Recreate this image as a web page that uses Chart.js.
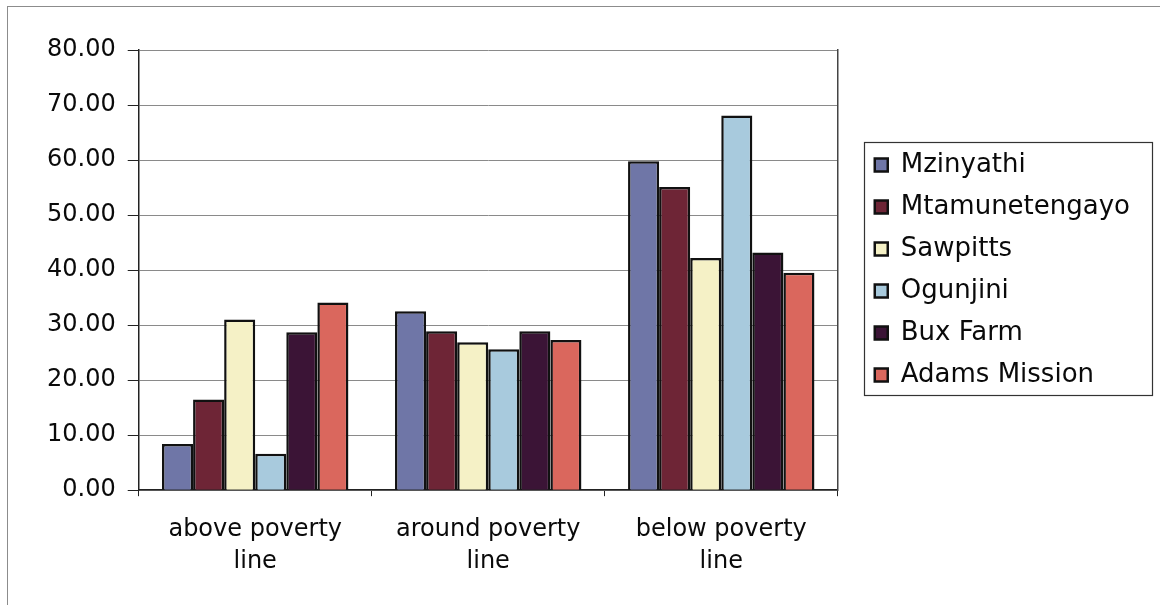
<!DOCTYPE html>
<html>
<head>
<meta charset="utf-8">
<script src="https://cdn.jsdelivr.net/npm/chart.js@4/dist/chart.umd.min.js"></script>
<style>
  html, body { margin: 0; padding: 0; background: #ffffff; }
  #wrap { position: relative; width: 1160px; height: 605px; overflow: hidden; }
  #frame { position: absolute; left: 7px; top: 6px; width: 1200px; height: 700px;
           border-top: 1px solid #8c8c8c; border-left: 1px solid #8c8c8c; pointer-events: none; }
  canvas { position: absolute; left: 0; top: 0; }
</style>
</head>
<body>
<div id="wrap">
  <div id="frame"></div>
  <canvas id="c" width="1160" height="605"></canvas>
</div>
<script>
// ---- data ----
const categories = [["above poverty", "line"], ["around poverty", "line"], ["below poverty", "line"]];
const seriesNames = ["Mzinyathi", "Mtamunetengayo", "Sawpitts", "Ogunjini", "Bux Farm", "Adams Mission"];
const mzinyathi      = [8.4, 32.5, 59.8];
const mtamunetengayo = [16.5, 28.9, 55.1];
const sawpitts       = [31.0, 26.9, 42.2];
const ogunjini       = [6.6, 25.6, 68.1];
const buxFarm        = [28.7, 28.9, 43.2];
const adamsMission   = [34.1, 27.3, 39.5];
const yMin = 0, yMax = 80, yStep = 10;

const seriesValues = [mzinyathi, mtamunetengayo, sawpitts, ogunjini, buxFarm, adamsMission];
const seriesColors = ["#6f76a7", "#6e2536", "#f5f1c6", "#a8cadd", "#3b1436", "#da675d"];

const FONT = "'DejaVu Sans', 'Liberation Sans', sans-serif";

const legendBorder = {
  id: 'legendBorder',
  afterDraw(chart) {
    const lg = chart.legend;
    if (!lg || !lg.legendHitBoxes || !lg.legendHitBoxes.length) return;
    const hb = lg.legendHitBoxes;
    let minL = Infinity, minT = Infinity, maxB = -Infinity;
    hb.forEach(h => { minL = Math.min(minL, h.left); minT = Math.min(minT, h.top); maxB = Math.max(maxB, h.top + h.height); });
    const ctx = chart.ctx;
    ctx.save();
    ctx.strokeStyle = '#333333';
    ctx.lineWidth = 1.2;
    const left = Math.round(minL - 11) + 0.5;
    const top = Math.round(minT - 10) + 0.5;
    const right = chart.width - 8 + 0.5;
    const bottom = Math.round(maxB + 7) + 0.5;
    ctx.strokeRect(left, top, right - left, bottom - top);
    ctx.restore();
  }
};

new Chart(document.getElementById('c'), {
  type: 'bar',
  data: {
    labels: categories,
    datasets: seriesNames.map((name, i) => ({
      label: name,
      data: seriesValues[i],
      backgroundColor: seriesColors[i],
      borderColor: '#111111',
      borderWidth: 2.5,
      barPercentage: 1.0,
      categoryPercentage: 0.8
    }))
  },
  options: {
    responsive: false,
    devicePixelRatio: 1,
    animation: false,
    layout: { padding: { top: 50, left: 35, right: 20, bottom: 9 } },
    plugins: {
      title: { display: false },
      tooltip: { enabled: false },
      legend: {
        position: 'right',
        align: 'center',
        fullSize: false,
        maxWidth: 330,
        labels: {
          color: '#0a0a0a',
          font: { family: FONT, size: 26 },
          boxWidth: 13,
          boxHeight: 13,
          padding: 16
        }
      }
    },
    scales: {
      x: {
        grid: { display: true, drawOnChartArea: false, drawTicks: true, tickLength: 6, tickColor: '#222222' },
        border: { display: true, color: '#222222', width: 1.5 },
        ticks: { color: '#0a0a0a', font: { family: FONT, size: 24, lineHeight: 1.33 }, padding: 18, maxRotation: 0 }
      },
      y: {
        min: yMin, max: yMax,
        grid: { color: '#8a8a8a', lineWidth: 1, drawTicks: true, tickLength: 11, tickColor: '#222222' },
        border: { display: true, color: '#222222', width: 1.5 },
        ticks: {
          stepSize: yStep,
          color: '#0a0a0a',
          font: { family: FONT, size: 24 },
          padding: 12,
          callback: v => Number(v).toFixed(2)
        }
      },
      yRight: {
        position: 'right',
        display: true,
        grid: { display: false },
        ticks: { display: false },
        border: { display: true, color: '#444444', width: 1.5 },
        afterFit(scale) { scale.width = 21; }
      }
    }
  },
  plugins: [legendBorder]
});
</script>
</body>
</html>
